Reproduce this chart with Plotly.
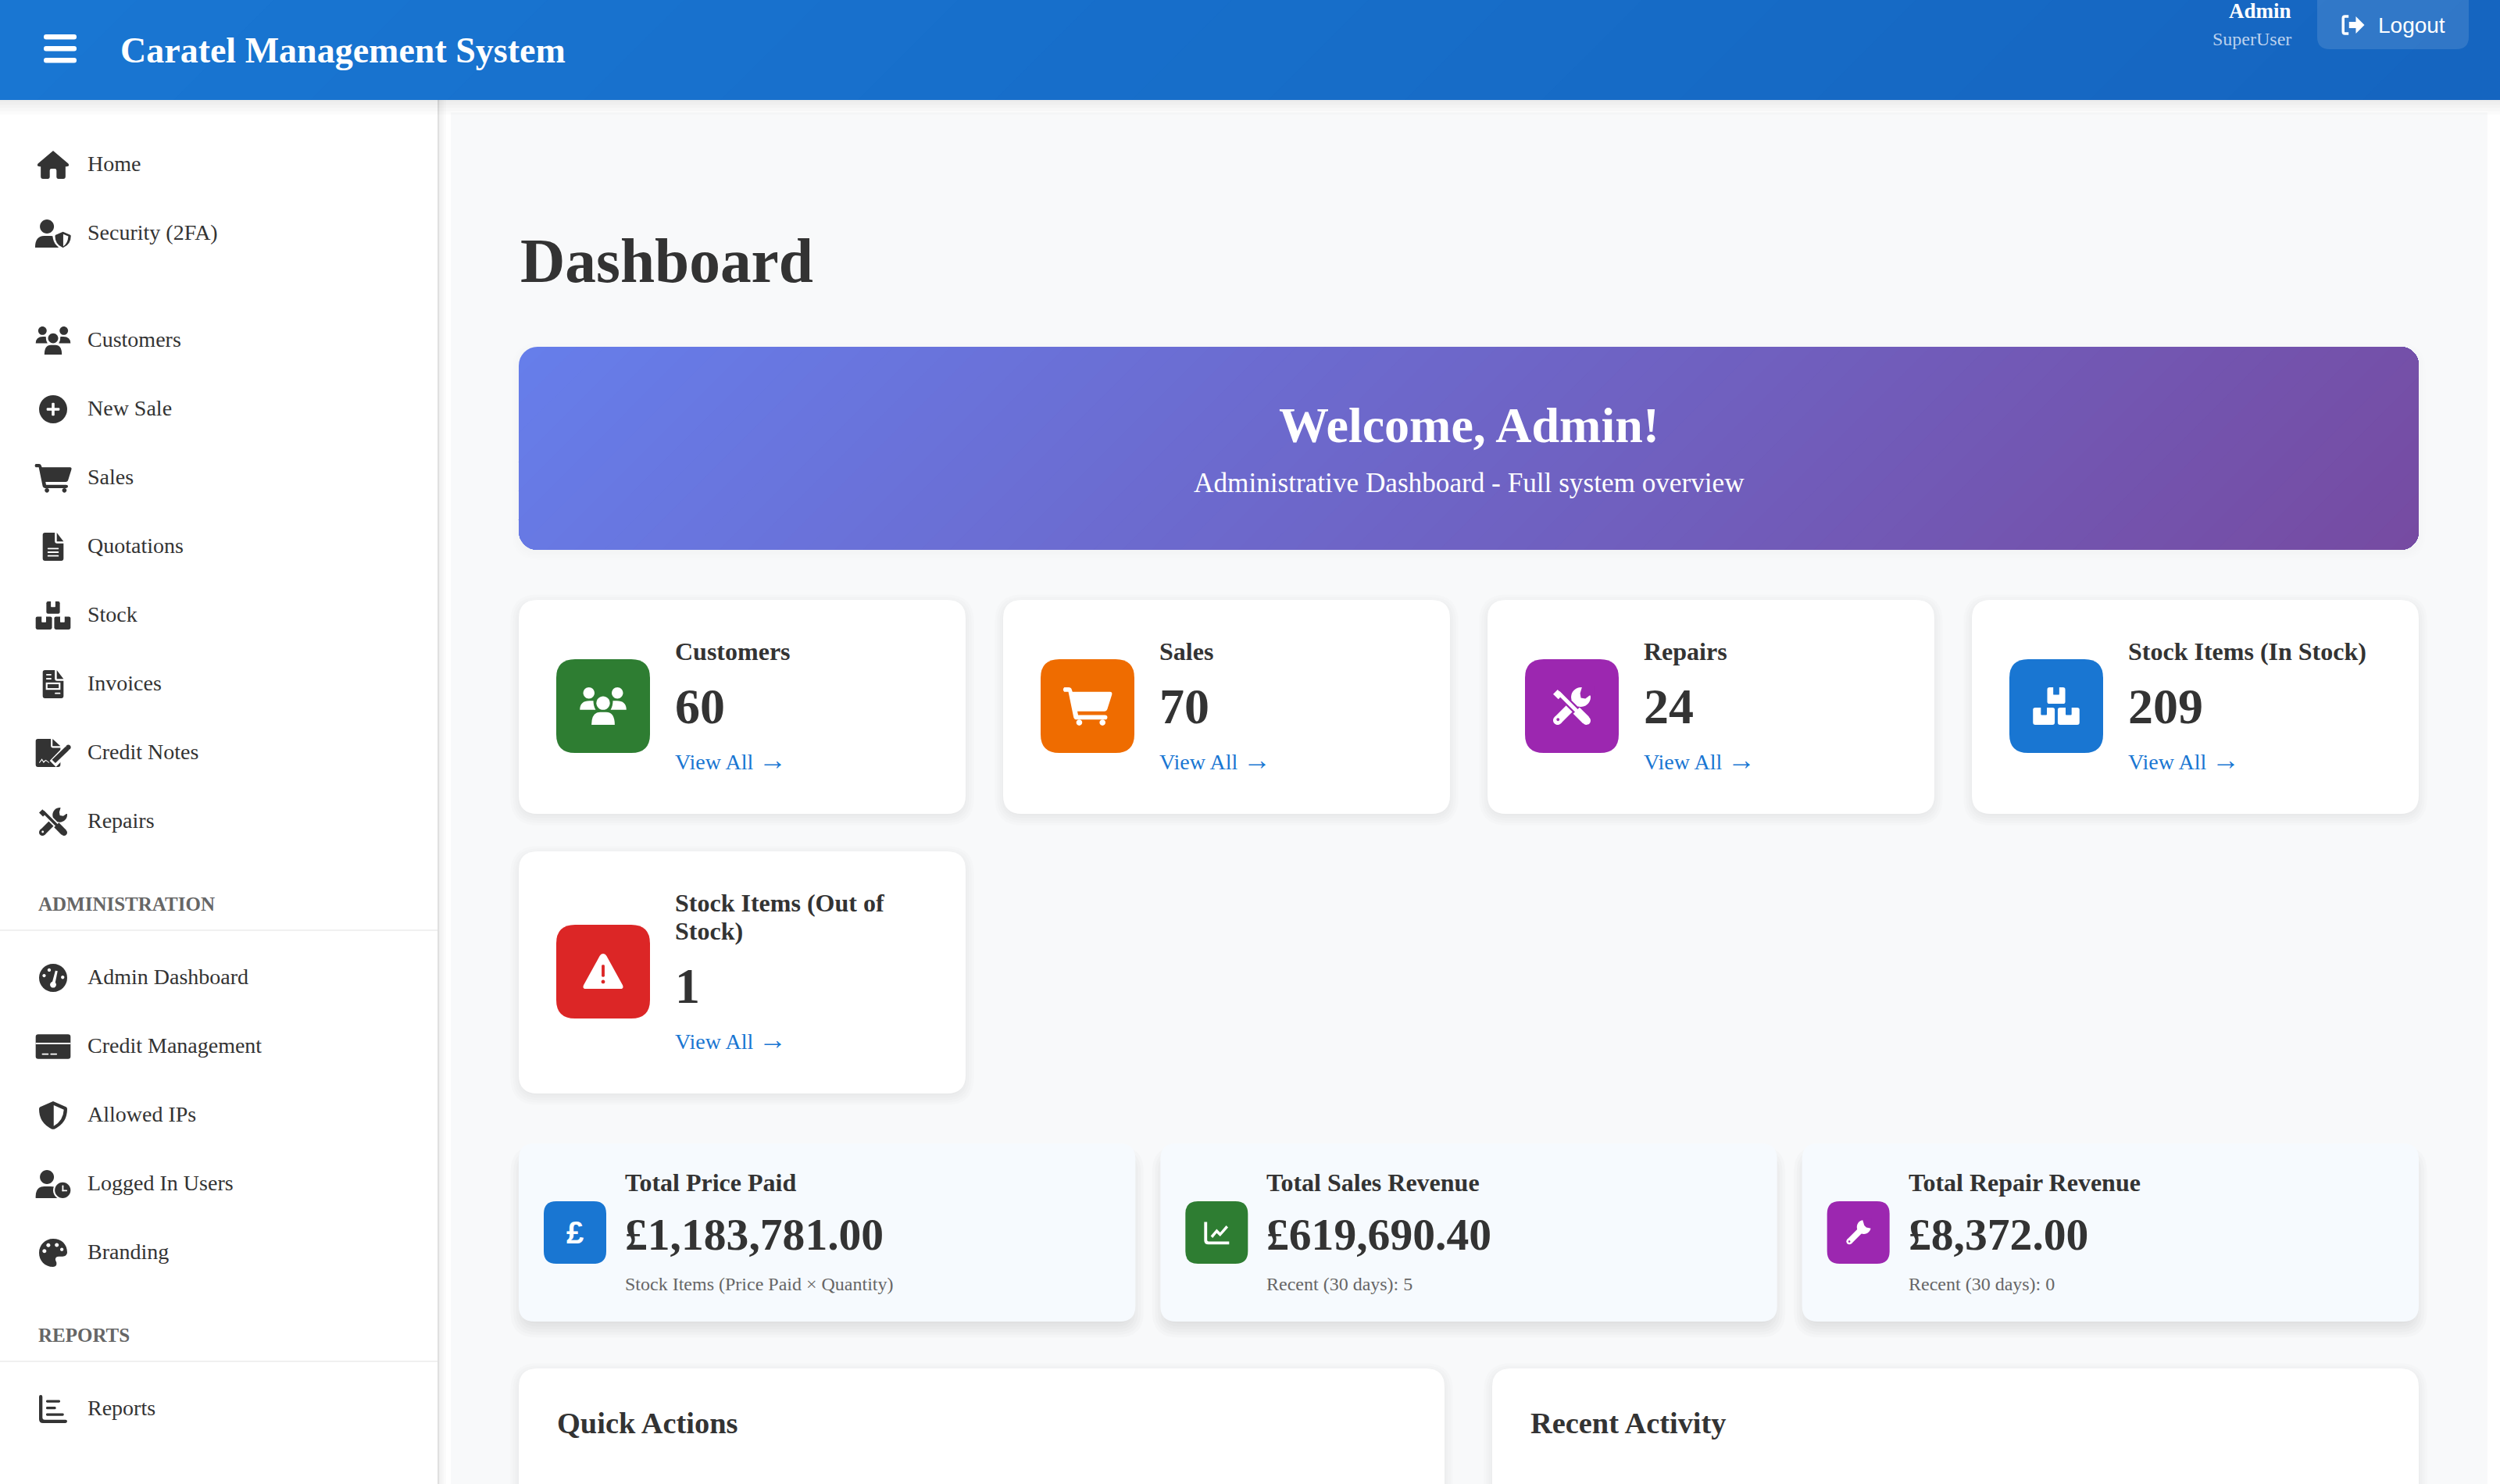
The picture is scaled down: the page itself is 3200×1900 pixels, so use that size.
import math
import re
import plotly.graph_objects as go

# page text and values
APP_TITLE = "Caratel Management System"
USER_NAME = "Admin"
USER_ROLE = "SuperUser"
LOGOUT_LABEL = "Logout"
PAGE_TITLE = "Dashboard"
WELCOME_TITLE = "Welcome, Admin!"
WELCOME_TEXT = "Administrative Dashboard - Full system overview"

NAV_TOP = ["Home", "Security (2FA)"]
NAV_TOP_ICONS = ["home", "user_shield"]
NAV_MAIN = ["Customers", "New Sale", "Sales", "Quotations", "Stock", "Invoices", "Credit Notes", "Repairs"]
NAV_MAIN_ICONS = ["users", "plus", "cart", "file", "boxes", "invoice", "signature", "tools"]
NAV_ADMIN_HEAD = "ADMINISTRATION"
NAV_ADMIN = ["Admin Dashboard", "Credit Management", "Allowed IPs", "Logged In Users", "Branding"]
NAV_ADMIN_ICONS = ["gauge", "card", "shield", "user_clock", "palette"]
NAV_REPORT_HEAD = "REPORTS"
NAV_REPORT = ["Reports"]
NAV_REPORT_ICONS = ["bars"]

STAT_TITLES = ["Customers", "Sales", "Repairs", "Stock Items (In Stock)"]
STAT_VALUES = [60, 70, 24, 209]
STAT_ICONS = ["users", "cart", "tools", "boxes"]
STAT_COLORS = ["#2e7d32", "#ef6c00", "#9c27b0", "#1976d2"]
OUT_TITLE = ["Stock Items (Out of", "Stock)"]
OUT_VALUE = 1
OUT_COLOR = "#dc2626"
VIEW_ALL = 'View All <span style="font-size:36px">→</span>'

REV_TITLES = ["Total Price Paid", "Total Sales Revenue", "Total Repair Revenue"]
REV_VALUES = ["£1,183,781.00", "£619,690.40", "£8,372.00"]
REV_NOTES = ["Stock Items (Price Paid × Quantity)", "Recent (30 days): 5", "Recent (30 days): 0"]
REV_ICONS = ["pound", "chart_line", "wrench"]
REV_COLORS = ["#1976d2", "#2e7d32", "#9c27b0"]

PANEL_TITLES = ["Quick Actions", "Recent Activity"]

SERIF = "Liberation Serif"
SANS = "Liberation Sans"
DARK = "#333333"

shapes = []
notes = []


def add_path(path, fill, opacity=1.0):
    shapes.append(dict(type="path", path=path, fillcolor=fill, opacity=opacity,
                       line=dict(width=0), xref="x", yref="y", layer="above"))


def label(x, y, text, size, color=DARK, bold=False, anchor="left", family=SERIF):
    notes.append(dict(x=x, y=y, text=str(text), showarrow=False, xref="x", yref="y",
                      xanchor=anchor, yanchor="middle", borderpad=0,
                      font=dict(family=family, size=size, color=color, weight=700 if bold else 400)))


def rrect(x0, y0, x1, y1, r=0):
    if r == 0:
        return f"M{x0} {y0} L{x1} {y0} L{x1} {y1} L{x0} {y1} Z"
    return (f"M{x0 + r} {y0} L{x1 - r} {y0} Q{x1} {y0} {x1} {y0 + r} L{x1} {y1 - r} Q{x1} {y1} {x1 - r} {y1} "
            f"L{x0 + r} {y1} Q{x0} {y1} {x0} {y1 - r} L{x0} {y0 + r} Q{x0} {y0} {x0 + r} {y0} Z")


def circ(x, y, r):
    k = r * 0.5523
    return (f"M{x - r} {y} C{x - r} {y - k} {x - k} {y - r} {x} {y - r} C{x + k} {y - r} {x + r} {y - k} {x + r} {y} "
            f"C{x + r} {y + k} {x + k} {y + r} {x} {y + r} C{x - k} {y + r} {x - r} {y + k} {x - r} {y} Z")


def poly(*pts):
    return "M" + " L".join(f"{pts[i]} {pts[i + 1]}" for i in range(0, len(pts), 2)) + " Z"


def bar(x0, y0, x1, y1, w):
    dx, dy = x1 - x0, y1 - y0
    n = (dx * dx + dy * dy) ** 0.5
    ox, oy = -dy / n * w / 2, dx / n * w / 2
    return poly(x0 + ox, y0 + oy, x1 + ox, y1 + oy, x1 - ox, y1 - oy, x0 - ox, y0 - oy)


SHIELD = "M0 -50 L46 -30 Q50 -28 50 -22 Q50 28 4 49 Q0 50 -4 49 Q-50 28 -50 -22 Q-50 -28 -46 -30 Z"
FILE_BODY = "M-37 -42 Q-37 -50 -29 -50 L6 -50 L6 -20 Q6 -12 14 -12 L37 -12 L37 42 Q37 50 29 50 L-29 50 Q-37 50 -37 42 Z"
FILE_FOLD = "M13 -50 L37 -19 L13 -19 Z"


def shrink(path, f, dx=0, dy=0):
    nums = re.split(r"(-?\d+\.?\d*(?:e-?\d+)?)", path)
    out, i = [], 0
    for tok in nums:
        if re.fullmatch(r"-?\d+\.?\d*(?:e-?\d+)?", tok):
            v = float(tok) * f + (dx if i % 2 == 0 else dy)
            out.append(f"{v:.2f}")
            i += 1
        else:
            out.append(tok)
    return "".join(out)


# icons in a box where 100 units = 1em, "f" foreground and "b" background
ICONS = {
    "home": [("f", "M0 -50 L54 -4 Q60 6 48 6 L44 6 L44 42 Q44 50 36 50 L18 50 Q12 50 12 44 L12 20 Q12 14 6 14 "
                   "L-6 14 Q-12 14 -12 20 L-12 44 Q-12 50 -18 50 L-36 50 Q-44 50 -44 42 L-44 6 L-48 6 Q-60 6 -54 -4 Z")],
    "user_shield": [("f", circ(-22, -25, 25)),
                    ("f", "M-64 50 Q-64 8 -32 8 L-10 8 Q8 8 19 16 L19 50 Z"),
                    ("b", shrink(SHIELD, 0.74, 35, 20)),
                    ("f", shrink(SHIELD, 0.56, 35, 22)),
                    ("b", "M36 2 L54 10 Q52 36 36 46 Z")],
    "users": [("f", circ(-38, -35, 15)), ("f", circ(38, -35, 15)), ("f", circ(0, -8, 18)),
              ("f", "M-62 10 Q-62 -14 -36 -14 L-26 -14 Q-26 0 -20 10 Z"),
              ("f", "M62 10 Q62 -14 36 -14 L26 -14 Q26 0 20 10 Z"),
              ("f", "M-31 50 Q-31 16 -8 16 L8 16 Q31 16 31 50 Z")],
    "plus": [("f", circ(0, 0, 50)), ("b", rrect(-5, -23, 5, 23, 3)), ("b", rrect(-23, -5, 23, 5, 3))],
    "cart": [("f", "M-62 -50 L-50 -50 Q-44 -50 -42 -44 L-40 -38 L60 -38 Q67 -38 65 -30 L53 8 Q51 14 45 14 L-27 14 "
                   "L-25 24 L46 24 Q53 24 53 30 Q53 36 46 36 L-29 36 Q-35 36 -37 30 L-51 -38 L-62 -38 Q-68 -44 -62 -50 Z"),
             ("f", circ(-22, 44, 8)), ("f", circ(40, 44, 8))],
    "file": [("f", FILE_BODY), ("f", FILE_FOLD), ("b", rrect(-20, 4, 20, 9, 2)),
             ("b", rrect(-20, 17, 20, 22, 2)), ("b", rrect(-20, 30, 20, 35, 2))],
    "boxes": [("f", rrect(-24, -50, 24, -6, 6)), ("b", rrect(-8, -52, 8, -30, 2)),
              ("f", rrect(-62, 4, -4, 50, 6)), ("b", rrect(-41, 2, -25, 24, 2)),
              ("f", rrect(4, 4, 62, 50, 6)), ("b", rrect(25, 2, 41, 24, 2))],
    "invoice": [("f", FILE_BODY), ("f", FILE_FOLD), ("b", rrect(-25, -36, -6, -31, 2)),
                ("b", rrect(-25, -22, -6, -17, 2)), ("b", rrect(-26, -6, 26, 20)),
                ("f", rrect(-20, 0, 20, 14)), ("b", rrect(6, 30, 26, 35, 2))],
    "signature": [("f", "M-62 -42 Q-62 -50 -54 -50 L-8 -50 L-8 -24 Q-8 -18 -2 -18 L26 -18 L26 42 Q26 50 18 50 L-54 50 Q-62 50 -62 42 Z"),
                  ("f", "M-2 -50 L26 -24 L-2 -24 Z"),
                  ("b", poly(-12, 28, 44, -30, 66, -8, 10, 50)),
                  ("f", poly(-4, 24, 44, -22, 56, -10, 8, 36)),
                  ("f", circ(54, -20, 9)),
                  ("b", poly(-50, 34, -40, 20, -34, 30, -26, 24, -14, 33, -14, 36, -26, 28, -34, 36, -40, 26, -48, 36))],
    "tools": [("f", bar(14, -14, -38, 38, 24)), ("f", circ(-38, 38, 12)), ("f", circ(24, -24, 26)),
              ("b", poly(28, -54, 60, -54, 60, -28, 47, -28, 36, -20, 24, -22, 22, -34)),
              ("b", circ(-37, 36, 4)),
              ("b", bar(-40, -40, 44, 44, 20)),
              ("f", bar(-44, -38, -30, -24, 17)), ("f", bar(-36, -36, 14, 14, 10)),
              ("f", bar(12, 12, 38, 38, 24)), ("f", circ(39, 39, 11))],
    "gauge": [("f", circ(0, 0, 50)), ("b", circ(0, 24, 11)), ("b", poly(-5, 22, 8, -26, 16, -24, 6, 24)),
              ("b", circ(-14, -28, 6)), ("b", circ(-32, -8, 6)), ("b", circ(34, -2, 6))],
    "card": [("f", rrect(-62, -44, 62, 44, 9)), ("b", rrect(-62, -14, 62, -8)),
             ("b", rrect(-40, 24, -16, 29, 2)), ("b", rrect(-10, 24, 14, 29, 2))],
    "shield": [("f", SHIELD), ("b", "M2 -36 L38 -20 Q36 20 2 38 Z")],
    "user_clock": [("f", circ(-22, -25, 25)), ("f", "M-62 50 Q-64 8 -32 8 L-10 8 Q10 8 18 20 L18 50 Z"),
                   ("b", circ(34, 22, 34)), ("f", circ(34, 22, 28)),
                   ("b", rrect(32, 4, 37, 26, 2)), ("b", rrect(32, 21, 50, 26, 2))],
    "palette": [("f", "M0 -50 C30 -50 50 -30 50 -2 C50 8 42 13 34 13 L20 13 Q8 13 8 24 Q10 30 12 35 Q14 50 0 50 "
                      "C-30 50 -50 28 -50 0 C-50 -28 -28 -50 0 -50 Z"),
                ("b", circ(-31, -6, 7)), ("b", circ(-17, -27, 7)), ("b", circ(13, -28, 7)), ("b", circ(31, -12, 6))],
    "bars": [("f", "M-50 -44 Q-50 -50 -44 -50 Q-38 -50 -38 -44 L-38 30 Q-38 38 -30 38 L44 38 Q50 38 50 44 Q50 50 44 50 "
                   "L-36 50 Q-50 50 -50 36 Z"),
             ("f", rrect(-25, -32, 25, -23, 4)), ("f", rrect(-25, -8, 10, 1, 4)), ("f", rrect(-25, 15, 38, 24, 4))],
    "logout": [("f", "M-20 -44 L-36 -44 Q-50 -44 -50 -30 L-50 30 Q-50 44 -36 44 L-20 44 L-20 32 L-36 32 Q-38 32 -38 30 "
                     "L-38 -30 Q-38 -32 -36 -32 L-20 -32 Z"),
               ("f", "M12 -38 L50 0 L12 38 L12 14 L-18 14 L-18 -14 L12 -14 Z")],
    "chart_line": [("f", "M-50 -42 L-38 -42 L-38 30 Q-38 36 -32 36 L50 36 L50 48 L-34 48 Q-50 48 -50 32 Z"),
                   ("f", poly(-24, 14, 0, -14, 14, 0, 38, -28, 46, -20, 14, 16, 0, 2, -16, 22))],
    "wrench": [("f", circ(22, -22, 28)), ("b", poly(16, -54, 54, -54, 54, -16, 32, -20, 24, -28)),
               ("f", bar(18, -18, -36, 36, 24)), ("f", circ(-36, 36, 12)), ("b", circ(-36, 36, 4))],
    "warning": [("f", "M0 -48 Q6 -48 9 -42 L52 36 Q56 46 46 46 L-46 46 Q-56 46 -52 36 L-9 -42 Q-6 -48 0 -48 Z"),
                ("b", rrect(-4, -18, 4, 14, 3)), ("b", circ(0, 27, 5))],
}


def icon(name, cx, cy, em, fg, bg):
    f = em / 100
    for kind, path in ICONS[name]:
        add_path(shrink(path, f, cx, cy), fg if kind == "f" else bg)


def shadow(x0, y0, x1, y1, r, dy, blur, alpha, n=8):
    for i in range(n):
        d = blur * (1 - 2 * i / (n - 1)) * 0.9
        add_path(rrect(x0 - d, y0 + dy - d, x1 + d, y1 + dy + d, max(r + d, 1)), "#000000", alpha / n)


def gradient_box(x0, y0, x1, y1, r, c0, c1):
    # CSS 135deg gradient, later polygons are painted over the earlier ones
    pts = []
    if r:
        corners = [(x1 - r, y0 + r, -90), (x1 - r, y1 - r, 0), (x0 + r, y1 - r, 90), (x0 + r, y0 + r, 180)]
        for cx, cy, a in corners:
            for k in range(9):
                t = math.radians(a + 90 * k / 8)
                pts.append((cx + r * math.cos(t), cy + r * math.sin(t)))
    else:
        pts = [(x0, y0), (x1, y0), (x1, y1), (x0, y1)]
    span = (x1 - x0) + (y1 - y0)
    steps = max(abs(a - b) for a, b in zip(c0, c1))
    for s in range(steps + 1):
        lim = s / (steps + 1) * span
        out = []
        for i, p in enumerate(pts):
            q = pts[(i + 1) % len(pts)]
            dp = (p[0] - x0) + (p[1] - y0) - lim
            dq = (q[0] - x0) + (q[1] - y0) - lim
            if dp >= 0:
                out.append(p)
            if dp * dq < 0:
                u = dp / (dp - dq)
                out.append((p[0] + u * (q[0] - p[0]), p[1] + u * (q[1] - p[1])))
        if len(out) < 3:
            continue
        t = (s + 0.5) / (steps + 1)
        col = "rgb(" + ",".join(str(round(a + (b - a) * t)) for a, b in zip(c0, c1)) + ")"
        add_path("M" + " L".join(f"{px:.1f} {py:.1f}" for px, py in out) + " Z", col)


# page background, sidebar and header
add_path(rrect(577, 144, 3184, 1900), "#f8f9fa")
shadow(0, 60, 562, 1960, 0, 0, 10, 0.12)
add_path(rrect(0, 128, 560, 1900), "#ffffff")
add_path(rrect(560, 128, 562, 1900), "#e0e0e0")
shadow(-30, -30, 3230, 128, 0, 4, 16, 0.14)
gradient_box(0, 0, 3200, 128, 0, (25, 118, 210), (21, 101, 192))

for y in (44, 59, 74):
    add_path(rrect(56, y, 98, y + 6.5, 3), "#ffffff")
label(153, 64, APP_TITLE, 46, "#ffffff", True)
label(2934, 14, USER_NAME, 27, "#ffffff", True, "right")
label(2934, 50, USER_ROLE, 24, "#bcd2ee", False, "right")
add_path(rrect(2966, -20, 3160, 63, 16), "#ffffff", 0.12)
icon("logout", 3012, 32, 29, "#ffffff", "#ffffff")
label(3043, 32, LOGOUT_LABEL, 28, "#ffffff", False, "left", SANS)

# sidebar
for rows, ys in ((zip(NAV_TOP, NAV_TOP_ICONS), (210, 298)),
                 (zip(NAV_MAIN, NAV_MAIN_ICONS), [435 + 88 * i for i in range(8)]),
                 (zip(NAV_ADMIN, NAV_ADMIN_ICONS), [1251 + 88 * i for i in range(5)]),
                 (zip(NAV_REPORT, NAV_REPORT_ICONS), (1803,))):
    for (name, ic), y in zip(rows, ys):
        icon(ic, 68, y + 1, 36, DARK, "#ffffff")
        label(111, y - 1, name, 28)
label(48, 1157, NAV_ADMIN_HEAD, 25, "#666666", True)
add_path(rrect(0, 1190, 560, 1192), "#f0f0f0")
label(48, 1709, NAV_REPORT_HEAD, 25, "#666666", True)
add_path(rrect(0, 1742, 560, 1744), "#f0f0f0")

# title and welcome banner
label(665, 334, PAGE_TITLE, 79.4, DARK, True)
shadow(664, 444, 3096, 704, 24, 4, 10, 0.04)
gradient_box(664, 444, 3096, 704, 24, (102, 126, 234), (118, 75, 162))
label(1880, 544, WELCOME_TITLE, 64, "#ffffff", True, "center")
label(1880, 618, WELCOME_TEXT, 35.2, "#ffffff", False, "center")


def stat_card(x0, y0, y1, ic_name, color, titles, value, ic_y, title_ys, val_y, view_y):
    shadow(x0, y0, x0 + 572, y1, 24, 4, 12, 0.08)
    add_path(rrect(x0, y0, x0 + 572, y1, 24), "#ffffff")
    add_path(rrect(x0 + 48, ic_y - 60, x0 + 168, ic_y + 60, 24), color)
    icon(ic_name, x0 + 108, ic_y, 48, "#ffffff", color)
    for t, ty in zip(titles, title_ys):
        label(x0 + 199, ty, t, 32, DARK, True)
    label(x0 + 199, val_y, value, 64, DARK, True)
    label(x0 + 199, view_y, VIEW_ALL, 28, "#1976d2")


for i in range(4):
    stat_card(664 + 620 * i, 768, 1042, STAT_ICONS[i], STAT_COLORS[i], [STAT_TITLES[i]], STAT_VALUES[i],
              904, [834], 904, 973)
stat_card(664, 1090, 1400, "warning", OUT_COLOR, OUT_TITLE, OUT_VALUE, 1244, [1156, 1192], 1262, 1331)

# revenue cards
REV_W = (2432 - 64) / 3
for i in range(3):
    x0 = 664 + (REV_W + 32) * i
    shadow(x0 + 2, 1472, x0 + REV_W - 2, 1692, 20, 8, 14, 0.13)
    add_path(rrect(x0, 1464, x0 + REV_W, 1692, 20), "#f6fafe")
    add_path(rrect(x0 + 32, 1538, x0 + 112, 1618, 16), REV_COLORS[i])
    if REV_ICONS[i] == "pound":
        label(x0 + 72, 1578, "£", 40, "#ffffff", True, "center", SANS)
    else:
        icon(REV_ICONS[i], x0 + 72, 1578, 32, "#ffffff", REV_COLORS[i])
    label(x0 + 135, 1514, REV_TITLES[i], 32, DARK, True)
    label(x0 + 135, 1580, REV_VALUES[i], 57.6, DARK, True)
    label(x0 + 135, 1644, REV_NOTES[i], 24, "#666666")

# bottom panels
for x0, x1, title in ((664, 1849, PANEL_TITLES[0]), (1910, 3096, PANEL_TITLES[1])):
    shadow(x0, 1752, x1, 1960, 24, 4, 12, 0.08)
    add_path(rrect(x0, 1752, x1, 1960, 24), "#ffffff")
    label(x0 + 48, 1822, title, 38.4, DARK, True)

fig = go.Figure()
fig.update_layout(width=3200, height=1900, margin=dict(l=0, r=0, t=0, b=0, pad=0),
                  paper_bgcolor="#ffffff", plot_bgcolor="#ffffff", showlegend=False,
                  shapes=shapes, annotations=notes)
fig.update_xaxes(range=[0, 3200], visible=False, fixedrange=True)
fig.update_yaxes(range=[1900, 0], visible=False, fixedrange=True)
fig.write_html("out.html", config=dict(displayModeBar=False),
               post_script="document.body.style.margin = '0';")
